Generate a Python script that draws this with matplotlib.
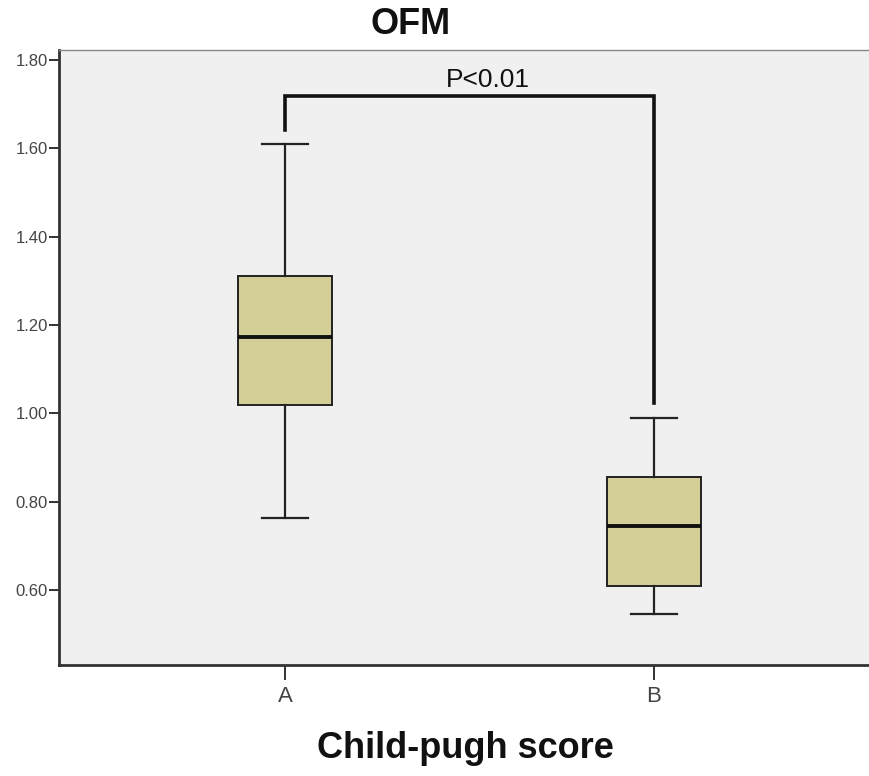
import matplotlib
matplotlib.use("Agg")
import matplotlib.pyplot as plt

plt.rcParams['font.family'] = ['Liberation Sans', 'DejaVu Sans']

# ---- data ----
categories = ["A", "B"]
whisker_low = [0.763, 0.546]
q1 = [1.019, 0.609]
median = [1.173, 0.745]
q3 = [1.311, 0.856]
whisker_high = [1.610, 0.990]
y_ticks = [0.60, 0.80, 1.00, 1.20, 1.40, 1.60, 1.80]
title = "OFM"
x_label = "Child-pugh score"
p_text = "P<0.01"
bracket_top = 1.718
bracket_left_end = 1.642
bracket_right_end = 1.023

fig = plt.figure(figsize=(8.69, 7.76), dpi=100)
ax = fig.add_axes([59/869, 1-665/776, 1-59/869, (665-50)/776])
ax.set_facecolor('#f0f0f0')

positions = list(range(1, len(categories)+1))
stats = []
for i, c in enumerate(categories):
    stats.append(dict(label=c, whislo=whisker_low[i], q1=q1[i], med=median[i],
                      q3=q3[i], whishi=whisker_high[i], fliers=[]))

ax.bxp(stats, positions=positions, widths=0.255, capwidths=0.125,
       patch_artist=True, showfliers=False,
       boxprops=dict(facecolor='#d4cf97', edgecolor='#222222', linewidth=1.4),
       medianprops=dict(color='#111111', linewidth=2.8),
       whiskerprops=dict(color='#222222', linewidth=1.6),
       capprops=dict(color='#222222', linewidth=1.6))

# significance bracket
ax.plot([positions[0], positions[0], positions[1], positions[1]],
        [bracket_left_end, bracket_top, bracket_top, bracket_right_end],
        color='#111111', linewidth=2.6, solid_joinstyle='miter')
ax.text(1.55, 1.755, p_text, ha='center', va='center', fontsize=19,
        color='#111111')

ax.set_xlim(0.3875, 2.5827)
ax.set_ylim(0.430, 1.823)
ax.set_yticks(y_ticks)
ax.set_yticklabels([f"{v:.2f}" for v in y_ticks])
ax.set_xticks(positions)
ax.set_xticklabels(categories)
ax.tick_params(axis='y', length=7, width=1.4, color='#333333', labelsize=12,
               labelcolor='#444444', pad=1)
ax.tick_params(axis='x', length=11, width=1.4, color='#333333', labelsize=16,
               labelcolor='#444444', pad=4)

for s in ['left', 'bottom']:
    ax.spines[s].set_linewidth(2.0)
    ax.spines[s].set_color('#333333')
ax.spines['top'].set_linewidth(1.0)
ax.spines['top'].set_color('#888888')
ax.spines['right'].set_visible(False)

fig.text(411/869, 1-25/776, title, ha='center', va='center', fontsize=26,
         fontweight='bold', color='#111111')
fig.text(465/869, 1-748/776, x_label, ha='center', va='center', fontsize=26,
         fontweight='bold', color='#111111')

fig.savefig('out.png', dpi=100, facecolor='white')
